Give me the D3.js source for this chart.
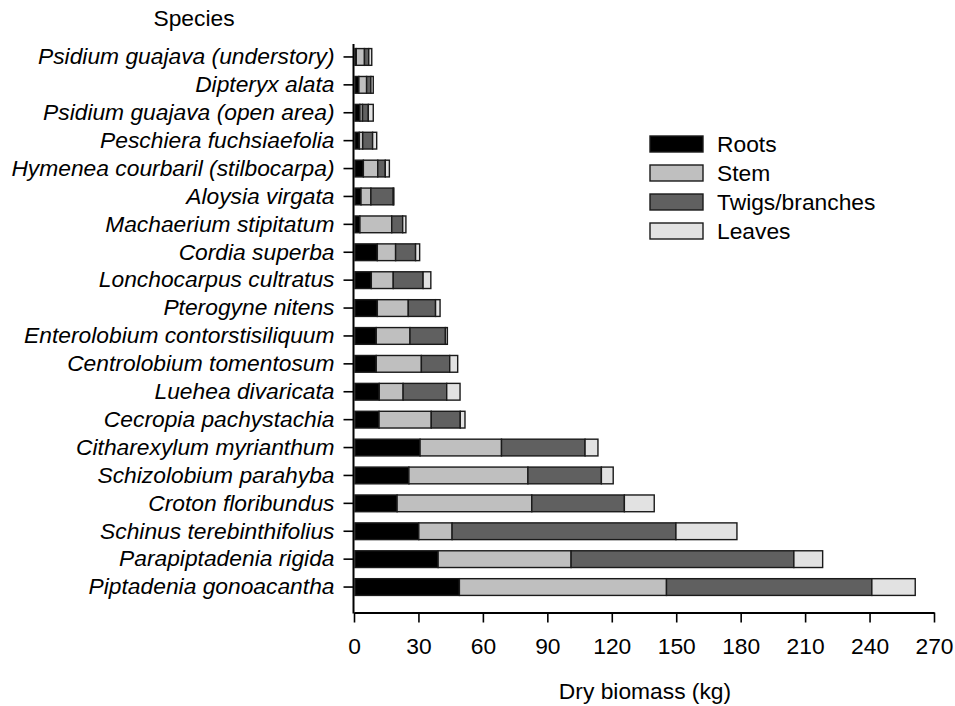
<!DOCTYPE html>
<html>
<head>
<meta charset="utf-8">
<script src="https://cdn.jsdelivr.net/npm/d3@7"></script>
<style>
  html, body { margin: 0; padding: 0; background: #fff; }
  svg { display: block; font-family: "Liberation Sans", Arial, sans-serif; }
</style>
</head>
<body>
<svg id="chart" width="955" height="706"></svg>
<script>
const species = [
  "Psidium guajava (understory)",
  "Dipteryx alata",
  "Psidium guajava (open area)",
  "Peschiera fuchsiaefolia",
  "Hymenea courbaril (stilbocarpa)",
  "Aloysia virgata",
  "Machaerium stipitatum",
  "Cordia superba",
  "Lonchocarpus cultratus",
  "Pterogyne nitens",
  "Enterolobium contorstisiliquum",
  "Centrolobium tomentosum",
  "Luehea divaricata",
  "Cecropia pachystachia",
  "Citharexylum myrianthum",
  "Schizolobium parahyba",
  "Croton floribundus",
  "Schinus terebinthifolius",
  "Parapiptadenia rigida",
  "Piptadenia gonoacantha"
];
const components = ["Roots", "Stem", "Twigs/branches", "Leaves"];
const roots  = [0.6, 1.8, 2.3, 2.0, 3.9, 2.8, 2.3, 10.4, 7.6, 10.4, 9.9, 9.9, 11.3, 11.2, 30.3, 25.1, 19.6, 29.7, 38.7, 48.6];
const stem   = [3.8, 3.6, 1.2, 1.6, 6.7, 4.6, 14.8, 8.5, 10.2, 14.4, 15.7, 21.0, 11.1, 24.3, 37.9, 55.4, 62.7, 15.5, 61.9, 96.4];
const twigs  = [2.0, 2.0, 2.7, 4.6, 3.5, 10.4, 5.1, 9.3, 13.9, 12.7, 16.5, 13.2, 20.3, 13.5, 38.9, 34.2, 43.1, 104.2, 103.7, 95.6];
const leaves = [1.4, 1.1, 2.3, 1.9, 1.9, 0.3, 1.5, 1.9, 3.6, 2.1, 0.9, 3.7, 6.2, 2.2, 6.0, 5.5, 13.9, 28.4, 13.4, 20.2];
const xTicks = [0, 30, 60, 90, 120, 150, 180, 210, 240, 270];
const colors = ["#000000", "#bfbfbf", "#606060", "#e2e2e2"];

const FS = 22.8;
const svg = d3.select("#chart");

const rows = species.map((s, i) => ({
  species: s,
  "Roots": roots[i], "Stem": stem[i], "Twigs/branches": twigs[i], "Leaves": leaves[i]
}));

const x = d3.scaleLinear().domain([0, 270]).range([354, 934]);
const y = d3.scaleBand().domain(species).range([43, 601]).paddingInner(0.4).paddingOuter(0.2);
const color = d3.scaleOrdinal().domain(components).range(colors);

const stacked = d3.stack().keys(components)(rows);

// bars
svg.append("g")
  .selectAll("g")
  .data(stacked)
  .join("g")
  .attr("fill", d => color(d.key))
  .selectAll("rect")
  .data(d => d)
  .join("rect")
  .attr("x", d => x(d[0]) + 1)
  .attr("y", d => y(d.data.species))
  .attr("width", d => Math.max(0, x(d[1]) - x(d[0])))
  .attr("height", y.bandwidth())
  .attr("stroke", "#1a1a1a")
  .attr("stroke-width", 1.4);

// y axis
const yAxis = svg.append("g")
  .attr("transform", "translate(353.5,0)")
  .call(d3.axisLeft(y).tickSize(10).tickPadding(9));
yAxis.select(".domain").remove();
yAxis.selectAll(".tick line").attr("stroke", "#000").attr("stroke-width", 1.6);
yAxis.selectAll(".tick text")
  .attr("font-size", FS)
  .attr("font-style", "italic")
  .attr("fill", "#000")
  .attr("font-family", "'Liberation Sans', Arial, sans-serif");
svg.append("line")
  .attr("x1", 353.5).attr("x2", 353.5)
  .attr("y1", 44).attr("y2", 613.5)
  .attr("stroke", "#000").attr("stroke-width", 2);

// x axis
const xAxis = svg.append("g")
  .attr("transform", "translate(0,612.5)")
  .call(d3.axisBottom(x).tickValues(xTicks).tickSize(10).tickPadding(15).tickSizeOuter(0));
xAxis.select(".domain").attr("stroke", "#000").attr("stroke-width", 2);
xAxis.selectAll(".tick line").attr("stroke", "#000").attr("stroke-width", 1.6);
xAxis.selectAll(".tick text")
  .attr("font-size", FS)
  .attr("fill", "#000")
  .attr("font-family", "'Liberation Sans', Arial, sans-serif");

// axis titles
svg.append("text")
  .attr("x", 194).attr("y", 26)
  .attr("text-anchor", "middle")
  .attr("font-size", FS)
  .text("Species");
svg.append("text")
  .attr("x", 645).attr("y", 699)
  .attr("text-anchor", "middle")
  .attr("font-size", FS)
  .text("Dry biomass (kg)");

// legend
const legend = svg.append("g");
const lg = legend.selectAll("g")
  .data(components)
  .join("g")
  .attr("transform", (d, i) => `translate(650,${136 + i * 29})`);
lg.append("rect")
  .attr("width", 53).attr("height", 16)
  .attr("fill", d => color(d))
  .attr("stroke", "#1a1a1a").attr("stroke-width", 1.4);
lg.append("text")
  .attr("x", 67).attr("y", 8)
  .attr("dy", "0.36em")
  .attr("font-size", FS)
  .text(d => d);
</script>
</body>
</html>
